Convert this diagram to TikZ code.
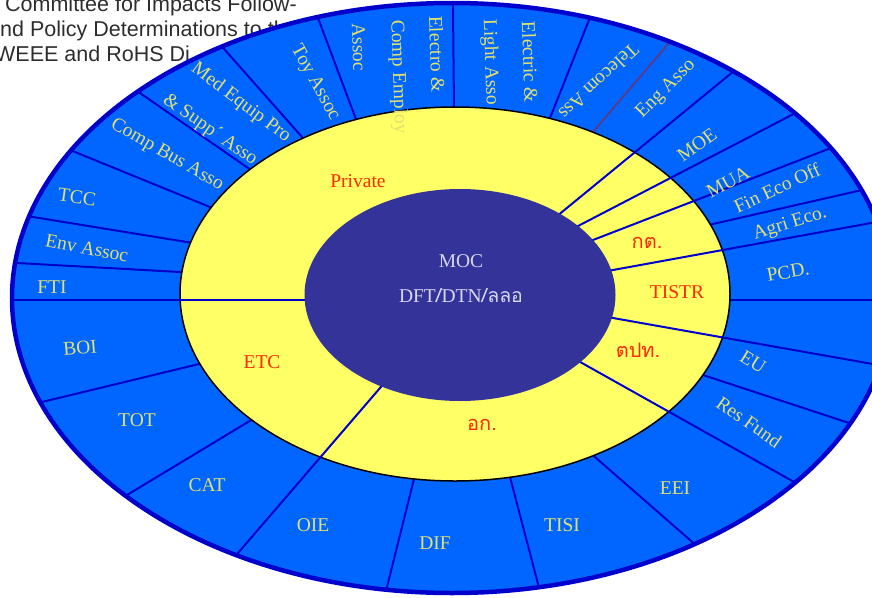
\documentclass[tikz,border=0pt]{standalone}
\usepackage{fontspec}
\setmainfont{Liberation Serif}
\newfontfamily\sansf{Liberation Sans}
\newfontfamily\thaifont[Script=Thai]{Loma}
\usetikzlibrary{calc}
\definecolor{ringblue}{RGB}{0,102,255}
\definecolor{spoke}{RGB}{0,0,204}
\definecolor{midyellow}{RGB}{255,255,102}
\definecolor{core}{RGB}{51,51,153}
\definecolor{lbl}{RGB}{225,225,110}
\definecolor{redlbl}{RGB}{255,40,0}
\definecolor{corelbl}{RGB}{215,215,240}
\definecolor{purpleline}{RGB}{85,60,140}
\definecolor{titlegray}{RGB}{45,45,45}
\newcommand\myspoke[3][spoke]{\draw[draw=#1,line width=2pt] ($#2!-0.15!#3$) -- ($#2!1.25!#3$);}
\newcommand\mythru[2]{\draw[draw=spoke,line width=2pt] ($#1!-0.04!#2$) -- ($#1!1.2!#2$);}
\begin{document}
\begin{tikzpicture}[x=1pt,y=-1pt,
  ringlabel/.style={text=lbl,font=\fontsize{19.5}{22}\selectfont,inner sep=0pt},
  redlabel/.style={text=redlbl,font=\fontsize{19.5}{22}\selectfont,inner sep=0pt},
  thailabel/.style={text=redlbl,font=\thaifont\fontsize{20}{22}\selectfont,inner sep=0pt},
  corelabel/.style={text=corelbl,font=\fontsize{19.5}{22}\selectfont,inner sep=0pt},
  titletext/.style={text=titlegray,font=\sansf\fontsize{21.5}{24}\selectfont,inner sep=0pt,anchor=base west}]
\useasboundingbox (0,0) rectangle (872,597);
% title text (partly hidden)
\node[titletext] (t1) at (5,11) {Committee for Impacts Follow-};
\node[titletext] (t2) at (0,36) {nd Policy Determinations to th};
\node[titletext] (t3) at (-5,61) {WEEE and RoHS Di};
% outer ring
\fill[ringblue] (452,298) ellipse [x radius=440, y radius=295];
\begin{scope}
\clip (452,298) ellipse [x radius=440, y radius=295];
\myspoke{(302,137)}{(225,50)}
\myspoke{(357,122)}{(318,18)}
\myspoke{(454,110)}{(453,7)}
\myspoke{(550,118)}{(587,25)}
\myspoke[purpleline]{(593,132)}{(663,50)}
\myspoke{(713,224)}{(862,190)}
\myspoke{(730,300)}{(890,300)}
\myspoke{(703,375)}{(840,420)}
\myspoke{(595,457)}{(690,540)}
\myspoke{(510,477)}{(537,580)}
\myspoke{(413,483)}{(387,587)}
\myspoke{(248,422)}{(127,495)}
\myspoke{(195,365)}{(42,402)}
\myspoke{(180,272)}{(17,263)}
\myspoke{(193,243)}{(33,217)}
\myspoke{(210,207)}{(75,152)}
\myspoke{(248,168)}{(140,93)}
\end{scope}
% middle ring
\filldraw[fill=midyellow,draw=black,line width=1.5pt] (455,294) ellipse [x radius=275, y radius=187];
\begin{scope}
\clip (452,298) ellipse [x radius=440, y radius=295];
\mythru{(305,300)}{(13,300)}
\mythru{(380,388)}{(238,553)}
\mythru{(582,363)}{(787,478)}
\mythru{(613,318)}{(867,363)}
\mythru{(613,270)}{(860,225)}
\mythru{(593,240)}{(818,153)}
\mythru{(580,225)}{(782,120)}
\mythru{(562,212)}{(723,80)}
\end{scope}
% core
\fill[core] (460,295) ellipse [x radius=155.5, y radius=106];
\draw[spoke,line width=4.5pt] (452,298) ellipse [x radius=440, y radius=295];
% core labels
\node[corelabel] (moc) at (461,261) {MOC};
\node[corelabel] (dft) at (461,296) {DFT{\thaifont /}DTN{\thaifont /ลลอ}};
% middle labels
\node[redlabel] (private) at (358,181) {Private};
\node[redlabel] (etc) at (262,362) {ETC};
\node[redlabel] (tistr) at (677,292) {TISTR};
\node[thailabel] (kt) at (647,243) {กต.};
\node[thailabel] (tpt) at (638,350) {ตปท.};
\node[thailabel] (ok) at (482,425) {อก.};
% outer labels
\node[ringlabel,rotate=-88] (l1a) at (437,54) {Electro \&};
\node[ringlabel,rotate=-88] (l1b) at (398,77) {Comp Employ};
\node[ringlabel,rotate=-88] (l1c) at (359,47) {Assoc};
\node[ringlabel,rotate=-88] (l2a) at (530,62) {Electric \&};
\node[ringlabel,rotate=-88] (l2b) at (490,62) {Light Asso};
\node[ringlabel,rotate=-137] (l3) at (599,82) {Telecom Ass};
\node[ringlabel,rotate=45] (l4) at (666,89) {Eng Asso};
\node[ringlabel,rotate=36] (l5) at (697,145) {MOE};
\node[ringlabel,rotate=29] (l6) at (728,182) {MUA};
\node[ringlabel,rotate=25] (l7) at (777,188) {Fin Eco Off};
\node[ringlabel,rotate=17] (l8) at (790,224) {Agri Eco.};
\node[ringlabel,rotate=10] (l9) at (788,272) {PCD.};
\node[ringlabel,rotate=-32] (l10) at (753,362) {EU};
\node[ringlabel,rotate=-35] (l11) at (749,422) {Res Fund};
\node[ringlabel] (l12) at (675,488) {EEI};
\node[ringlabel] (l13) at (562,525) {TISI};
\node[ringlabel] (l14) at (435,543) {DIF};
\node[ringlabel] (l15) at (313,525) {OIE};
\node[ringlabel] (l16) at (207,485) {CAT};
\node[ringlabel] (l17) at (137,420) {TOT};
\node[ringlabel,rotate=5] (l18) at (80,348) {BOI};
\node[ringlabel] (l19) at (52,287) {FTI};
\node[ringlabel,rotate=-11] (l20) at (87,248) {Env Assoc};
\node[ringlabel,rotate=-8] (l21) at (77,197) {TCC};
\node[ringlabel,rotate=-30] (l22) at (167,155) {Comp Bus Asso};
\node[ringlabel,rotate=-35] (l23) at (210,130) {\& Supp´ Asso};
\node[ringlabel,rotate=-37] (l24) at (241,103) {Med Equip Pro};
\node[ringlabel,rotate=-61] (l25) at (315,83) {Toy Assoc};
\end{tikzpicture}
\end{document}
